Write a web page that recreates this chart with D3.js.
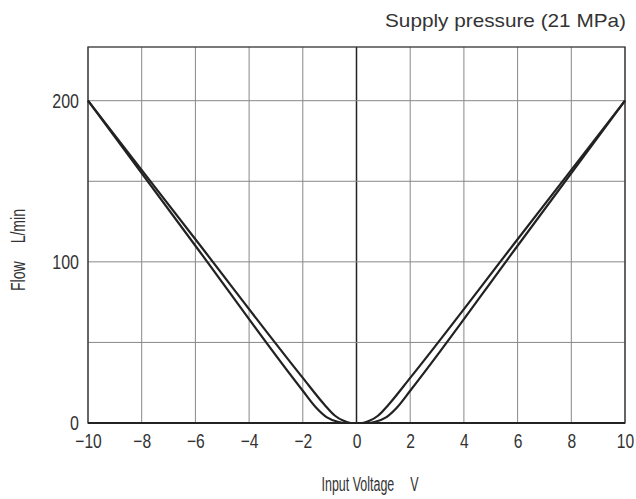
<!DOCTYPE html>
<html><head><meta charset="utf-8">
<script src="https://cdn.jsdelivr.net/npm/d3@7"></script>
<style>
body{margin:0;background:#fff;}
svg text{fill:#333;font-family:"Liberation Sans",Arial,sans-serif;}
</style></head>
<body>
<svg id="chart" width="636" height="499"></svg>
<script>
// Data
const xTicks = [-10,-8,-6,-4,-2,0,2,4,6,8,10];
const yTickLabels = [0,100,200];
const yGrid = [0,50,100,150,200];
// Outer curve (wider dead zone)
const outerV = [-10,-6,-2,-1.5,-1.1,-0.7,-0.4,0,0.4,0.7,1.1,1.5,2,6,10];
const outerFlow = [200,110,20,9.5,3.5,0.8,0,0,0,0.8,3.5,9.5,20,110,200];
// Inner curve (narrower dead zone)
const innerV = [-10,-6,-2,-1.2,-0.8,-0.5,-0.2,0,0.2,0.5,0.8,1.2,2,6,10];
const innerFlow = [200,114,28,11.5,4.5,1.5,0,0,0,1.5,4.5,11.5,28,114,200];
const title = "Supply pressure (21 MPa)";
const xTitle = "Input Voltage\u2003 V";
const yTitle = "Flow\u2003 L/min";

const svg = d3.select("#chart");
const L = 88, R = 625, T = 47, B = 423;
const x = d3.scaleLinear().domain([-10,10]).range([L,R]);
const y = d3.scaleLinear().domain([0,200]).range([B,100.7]);

function condense(sel, f){
  sel.each(function(){
    const w = this.getComputedTextLength();
    d3.select(this).attr("textLength", w*f).attr("lengthAdjust","spacingAndGlyphs");
  });
}

// grid
svg.append("g").selectAll("line").data(xTicks).join("line")
  .attr("x1",d=>x(d)).attr("x2",d=>x(d)).attr("y1",T).attr("y2",B)
  .attr("stroke",d=>d===0?"#222":"#888").attr("stroke-width",d=>d===0?1.5:1);
svg.append("g").selectAll("line").data(yGrid).join("line")
  .attr("x1",L).attr("x2",R).attr("y1",d=>y(d)).attr("y2",d=>y(d))
  .attr("stroke","#888").attr("stroke-width",1);

// frame
svg.append("rect").attr("x",L).attr("y",T).attr("width",R-L).attr("height",B-T)
  .attr("fill","none").attr("stroke","#333").attr("stroke-width",1.3);
svg.append("line").attr("x1",L).attr("x2",R).attr("y1",B).attr("y2",B)
  .attr("stroke","#222").attr("stroke-width",2);

// axes (labels only)
const xAxis = d3.axisBottom(x).tickValues(xTicks).tickSize(0).tickPadding(11)
  .tickFormat(d=>d<0?"\u2212"+Math.abs(d):String(d));
const gx = svg.append("g").attr("transform",`translate(0,${B})`).call(xAxis);
gx.select(".domain").remove();
gx.selectAll("text").attr("font-family","Liberation Sans, Arial, sans-serif")
  .attr("font-size",20).attr("fill","#333").call(condense,0.78);

const yAxis = d3.axisLeft(y).tickValues(yTickLabels).tickSize(0).tickPadding(9);
const gy = svg.append("g").attr("transform",`translate(${L},0)`).call(yAxis);
gy.select(".domain").remove();
gy.selectAll("text").attr("font-family","Liberation Sans, Arial, sans-serif")
  .attr("font-size",20).attr("fill","#333").call(condense,0.8);

// curves
const line = d3.line().x(d=>x(d[0])).y(d=>y(d[1])).curve(d3.curveMonotoneX);
[[outerV,outerFlow],[innerV,innerFlow]].forEach(([vs,fs])=>{
  svg.append("path").datum(vs.map((v,i)=>[v,fs[i]]))
    .attr("d",line).attr("fill","none").attr("stroke","#222").attr("stroke-width",2.2);
});

// titles
svg.append("text").attr("x",626).attr("y",27).attr("text-anchor","end")
  .attr("font-size",19).attr("textLength",241).attr("lengthAdjust","spacingAndGlyphs")
  .text(title);
svg.append("text").attr("x",370).attr("y",491)
  .attr("text-anchor","middle").attr("font-size",19.5)
  .attr("textLength",97).attr("lengthAdjust","spacingAndGlyphs").text(xTitle);
svg.append("text")
  .attr("transform","translate(25,250) rotate(-90)")
  .attr("text-anchor","middle").attr("font-size",19.5)
  .attr("textLength",82).attr("lengthAdjust","spacingAndGlyphs").text(yTitle);
</script>
</body></html>
